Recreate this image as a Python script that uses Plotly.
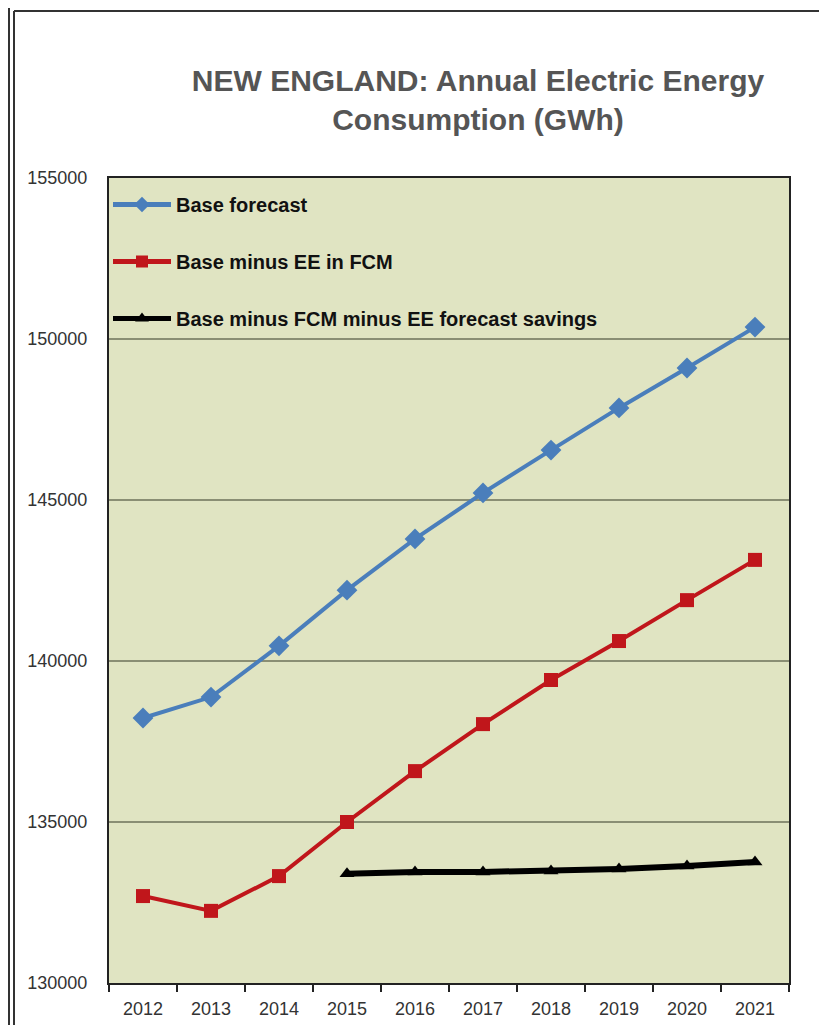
import plotly.graph_objects as go

years = ["2012", "2013", "2014", "2015", "2016", "2017", "2018", "2019", "2020", "2021"]
base_forecast = [138230, 138880, 140470, 142200, 143790, 145220, 146550, 147860, 149100, 150370]
base_minus_ee_fcm = [132700, 132240, 133320, 135000, 136580, 138040, 139410, 140620, 141890, 143140]
savings_years = ["2015", "2016", "2017", "2018", "2019", "2020", "2021"]
base_minus_fcm_ee = [133390, 133450, 133450, 133480, 133540, 133630, 133760]
y_ticks = [130000, 135000, 140000, 145000, 150000, 155000]

# page has an 8px body margin; work in page coordinates and convert
OFF = 8
W, H = 827 - OFF, 1025 - OFF
L, R, T, B = 109 - OFF, 38, 178 - OFF, 42
pw, ph = W - L - R, H - T - B

def px(x):
    return (x - OFF - L) / pw

def py(y):
    return (H - B - (y - OFF)) / ph

fig = go.Figure()
fig.add_trace(go.Scatter(
    x=years, y=base_forecast, name="<b>Base forecast</b>", mode="lines+markers",
    legendgroup="a",
    line=dict(color="#4a7ebb", width=4),
    marker=dict(symbol="diamond", size=16, color="#4a7ebb"),
))
fig.add_trace(go.Scatter(
    x=years, y=base_minus_ee_fcm, name="<b>Base minus EE in FCM</b>", mode="lines+markers",
    legendgroup="b",
    line=dict(color="#c0161b", width=4),
    marker=dict(symbol="square", size=14, color="#c0161b"),
))
fig.add_trace(go.Scatter(
    x=savings_years, y=base_minus_fcm_ee, name="<b>Base minus FCM minus EE forecast savings</b>",
    mode="lines+markers", legendgroup="c",
    line=dict(color="#000000", width=6),
    marker=dict(symbol="triangle-up", size=13, color="#000000"),
))

shapes = [
    dict(type="line", xref="paper", yref="paper", x0=px(9), x1=px(9), y0=py(OFF), y1=py(1025),
         line=dict(color="#333333", width=2)),
    dict(type="line", xref="paper", yref="paper", x0=px(14), x1=px(14), y0=py(11), y1=py(1025),
         line=dict(color="#333333", width=2)),
    dict(type="line", xref="paper", yref="paper", x0=px(14), x1=px(830), y0=py(11), y1=py(11),
         line=dict(color="#333333", width=2)),
]

fig.update_layout(
    width=W, height=H,
    margin=dict(l=L, r=R, t=T, b=B),
    paper_bgcolor="#ffffff",
    plot_bgcolor="#e0e4c2",
    font=dict(family="Liberation Sans, Arial, sans-serif", color="#333333"),
    title=dict(
        text="<b>NEW ENGLAND: Annual Electric Energy<br>Consumption (GWh)</b>",
        x=(478 - OFF) / W, xanchor="center", y=1 - (91 - OFF) / H, yanchor="middle",
        font=dict(size=30, color="#555555"),
    ),
    showlegend=True,
    legend=dict(
        x=px(108), y=py(185), xanchor="left", yanchor="top",
        bgcolor="rgba(0,0,0,0)", tracegroupgap=28,
        font=dict(size=20, color="#111111", family="Liberation Sans, Arial"),
        itemwidth=58, itemsizing="constant",
    ),
    shapes=shapes,
    xaxis=dict(
        type="category", categoryorder="array", categoryarray=years,
        range=[-0.5, 9.5], showgrid=False, showline=True, linecolor="#222222", linewidth=2,
        ticks="outside", ticklen=7, tickcolor="#222222", tickwidth=2,
        tickson="boundaries", mirror=True, automargin=False,
        tickfont=dict(size=18, color="#333333"), ticklabelstandoff=8,
    ),
    yaxis=dict(
        range=[130000, 155000], tickvals=y_ticks, ticktext=[str(v) for v in y_ticks],
        showgrid=True, gridcolor="#8a8e74", gridwidth=2, automargin=False,
        showline=True, linecolor="#222222", linewidth=2, mirror=True,
        ticks="", tickfont=dict(size=18, color="#333333"), zeroline=False,
        ticklabelstandoff=16,
    ),
)

fig.write_html("out.html")
